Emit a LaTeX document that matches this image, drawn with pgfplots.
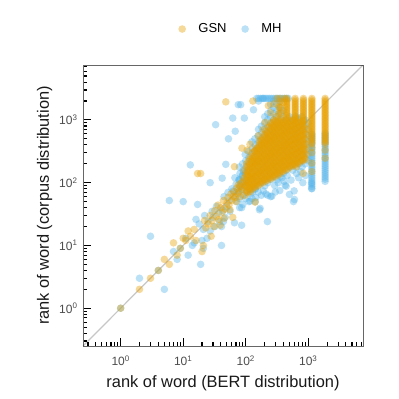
\documentclass[border=0pt]{standalone}
\usepackage{pgfplots}
\pgfplotsset{compat=1.18}
\usetikzlibrary{calc}
\usepackage{fontspec}
\setmainfont{Liberation Sans}
\definecolor{gsn}{HTML}{E69F00}
\definecolor{mh}{HTML}{56B4E9}
\begin{document}
\begin{tikzpicture}
\begin{axis}[
  xmode=log, ymode=log,
  scale only axis, width=280pt, height=281pt,
  xmin=0.25, xmax=7500, ymin=0.25, ymax=7500,
  xtick={1,10,100,1000}, ytick={1,10,100,1000},
  xticklabels={10\textsuperscript{0},10\textsuperscript{1},10\textsuperscript{2},10\textsuperscript{3}},
  yticklabels={10\textsuperscript{0},10\textsuperscript{1},10\textsuperscript{2},10\textsuperscript{3}},
  minor xtick={0.3,0.4,0.5,0.6,0.7,0.8,0.9,2,3,4,5,6,7,8,9,20,30,40,50,60,70,80,90,200,300,400,500,600,700,800,900,2000,3000,4000,5000,6000,7000},
  minor ytick={0.3,0.4,0.5,0.6,0.7,0.8,0.9,2,3,4,5,6,7,8,9,20,30,40,50,60,70,80,90,200,300,400,500,600,700,800,900,2000,3000,4000,5000,6000,7000},
  tick align=inside, xtick pos=bottom, ytick pos=left,
  major tick length=8pt, minor tick length=4pt,
  every tick/.style={black, line width=1.1pt},
  axis line style={draw=black!60, line width=0.9pt},
  tick label style={color=black!70, font=\fontsize{12}{14}\selectfont},
  xticklabel style={yshift=-6pt},
  yticklabel style={xshift=-2pt},
  label style={color=black!90, font=\fontsize{16.4}{19}\selectfont},
  xlabel={rank of word (BERT distribution)},
  xlabel style={yshift=-3pt},
  ylabel={rank of word (corpus distribution)},
  legend columns=-1, reverse legend,
  legend style={at={(rel axis cs:0.52,1.128)}, anchor=center, draw=none, fill=none,
    font=\fontsize{13}{15}\selectfont,
    /tikz/every even column/.append style={column sep=8pt}},
  legend image code/.code={\draw[#1, draw opacity=0] plot[only marks, mark=*] coordinates {(0.3cm,0cm)};
    \path[draw=none, fill=none] (0cm,-3pt) rectangle (0.8cm,3pt);},
]
% ---------------- MH (plotted first, below) ----------------
\addplot[only marks, mark=*, mark size=3.8pt, color=mh, mark options={draw opacity=0, fill opacity=0.4}] coordinates {
(1,1) (2,3) (3,14) (4,4) (5,2) (6,52) (7,8) (8,6) (9,9) (10,50) (11,13) (12,7) (13,192) (14,10) (15,11) (16,26) (17,45) (18,22) (19,5) (20,12) (21,9) (21,18) (22,30) (24,13) (25,24) (27,17) (27,100) (29,35) (30,28) (32,20) (33,840) (34,42) (37,33) (38,24) (41,10) (41,20) (42,118) (43,36) (44,24) (45,60) (47,28) (48,196) (50,41) (52,70) (53,500) (55,52) (56,35) (60,80) (62,1070) (63,74) (65,62) (66,23) (67,120) (68,660) (70,95) (72,50) (74,75) (76,1750) (78,110) (81,112) (83,1750) (84,88) (86,21) (86,40) (88,130) (92,150) (95,1070) (98,100) (117,51) (133,1450) (160,2000) (166,37) (170,39) (190,2200) (191,74) (222,24) (261,61) (297,71) (427,91) (443,88) (594,74) (580,50) (600,54) (818,100) (1130,81) (1130,98) (250,60) (350,75) (500,65) (700,120) (900,130)
(120,67) (145,58) (210,66) (330,100) (380,120) (460,130) (530,110) (650,140) (760,150) (140,80) (290,90) (410,105)
(150,2200) (160,2200) (172,2200) (184,2200) (197,2200) (211,2200) (226,2200) (242,2200) (259,2200) (277,2200) (297,2200) (318,2200) (340,2200) (364,2200) (390,2200) (418,2200) (447,2200) (479,2200)
(1860,105) (1860,114) (1860,123) (1860,133) (1860,144) (1860,156) (1860,169) (1860,183) (1860,198) (1860,215) (1860,233) (1860,252) (1860,273) (1860,296) (1860,320) (1860,347) (1860,376) (1860,407) (1860,441) (1860,478) (1860,518) (1860,561) (1860,608)
(1140,80) (1140,87) (1140,94) (1140,102) (1140,110) (1140,119) (1140,129) (1140,140) (1140,152) (1140,164) (1140,178) (1140,193) (1140,209) (1140,226) (1140,245) (1140,266) (1140,288) (1140,312) (1140,338) (1140,366) (1140,397) (1140,430) (1140,466) (1140,505) (1140,547) (1140,593)
(80,40) (79,56) (77,71) (80,89) (78,112) (81,141) (79,178)
(90,45) (91,63) (87,79) (90,100) (88,126) (91,158) (89,200)
(100,56) (102,71) (98,89) (101,112) (99,141) (102,178) (100,224) (98,282)
(113,50) (114,79) (110,100) (113,126) (111,158) (114,200) (112,251) (110,316)
(126,56) (128,71) (124,89) (127,112) (125,141) (128,178) (126,224) (124,282) (127,355) (125,447)
(142,50) (143,79) (139,100) (142,126) (140,158) (143,200) (141,251) (139,316) (142,398) (140,501)
(158,71) (160,89) (156,112) (159,141) (157,178) (160,224) (158,282) (156,355) (159,447) (157,562) (160,708)
(178,63) (176,100) (179,126) (177,158) (180,200) (178,251) (176,316) (179,398) (177,501) (180,631) (178,794)
(202,89) (197,112) (201,141) (199,178) (202,224) (200,282) (197,355) (201,447) (198,562) (202,708) (199,891) (201,1122)
(225,63) (226,100) (221,126) (225,158) (223,200) (226,251) (224,316) (221,398) (225,501) (222,631) (226,794) (223,1000) (225,1259)
(253,112) (248,141) (252,178) (250,224) (253,282) (251,355) (248,447) (252,562) (249,708) (253,891) (250,1122) (252,1413) (249,1778)
(279,126) (283,158) (281,200) (284,251) (282,316) (279,398) (283,501) (280,631) (284,794) (281,1000) (283,1259) (280,1585) (282,1995)
(318,112) (313,141) (317,178) (315,224) (318,282) (316,355) (313,447) (317,562) (314,708) (318,891) (315,1122) (317,1413) (314,1778)
(358,126) (352,158) (356,200) (354,251) (357,316) (355,398) (352,501) (356,631) (353,794) (357,1000) (354,1259) (356,1585) (353,1995)
(401,141) (395,178) (399,224) (397,282) (400,355) (398,447) (395,562) (399,708) (396,891) (400,1122) (397,1413)
(450,158) (444,200) (448,251) (446,316) (449,398) (447,501) (444,631) (448,794) (445,1000)
(498,178) (502,224) (500,282) (503,355) (501,447) (498,562) (502,708) (499,891) (503,1122)
(565,158) (559,200) (563,251) (561,316) (564,398) (562,501) (559,631) (563,794) (560,1000)
(634,178) (628,224) (632,282) (630,355) (633,447) (631,562) (628,708) (632,891) (629,1122)
(711,200) (705,251) (709,316) (707,398) (710,501) (708,631) (705,794) (709,1000)
(797,178) (791,224) (795,282) (793,355) (796,447) (794,562) (791,708) (795,891) (792,1122)
(894,200) (888,251) (892,316) (890,398) (893,501) (891,631) (888,794) (892,1000)
(1003,224) (997,282) (1001,355) (999,447) (1002,562) (1000,708) (997,891)
};
\addlegendentry{MH}
% ---------------- GSN (plotted on top) ----------------
\addplot[only marks, mark=*, mark size=3.8pt, color=gsn, mark options={draw opacity=0, fill opacity=0.4}] coordinates {
(1,1) (2,2) (3,3) (4,4) (5,6) (6,5) (7,11) (8,7) (9,9) (10,13) (11,12) (12,17) (13,14) (15,18) (16,12) (17,140) (19,140) (20,8) (21,10) (22,25) (23,19) (25,22) (27,30) (28,14) (29,25) (31,20) (32,36) (34,29) (36,44) (37,26) (39,21) (40,40) (42,34) (44,52) (45,27) (47,38) (48,1940) (50,47) (52,58) (54,44) (56,37) (58,66) (60,52) (62,28) (63,60) (65,72) (66,180) (68,58) (70,50) (72,82) (74,66) (76,92) (78,72) (80,86) (82,60) (84,98) (87,355) (88,78) (90,105) (92,84) (94,118) (96,92) (105,330) (110,129) (117,410) (130,2000) (141,49) (205,910) (230,1690) (314,2200) (160,560) (190,700) (250,1300) (280,1800) (340,1600) (400,1900) (420,2200) (650,180) (830,141)
(97,63) (102,76) (99,91) (104,110) (100,132) (96,158) (103,200)
(108,69) (112,83) (109,100) (113,120) (107,145) (111,174) (110,219)
(118,72) (122,87) (119,105) (123,126) (117,151) (121,182) (124,219) (118,263)
(129,79) (133,95) (130,115) (134,138) (128,166) (132,200) (131,240) (127,300)
(143,85) (147,102) (144,123) (148,148) (142,178) (146,214) (145,257) (141,320) (149,355)
(156,89) (160,107) (157,129) (161,155) (155,186) (159,224) (158,270) (154,324) (162,398)
(171,95) (176,115) (173,138) (177,166) (170,200) (175,240) (174,288) (169,347) (178,417) (172,479)
(187,100) (192,120) (189,145) (193,174) (186,209) (191,251) (190,302) (185,363) (194,437) (188,525)
(206,105) (211,126) (208,151) (212,182) (205,219) (210,263) (209,316) (204,380) (213,457) (207,550) (210,660)
(226,110) (231,132) (228,158) (232,191) (225,229) (230,275) (229,331) (224,398) (233,479) (227,575) (230,760)
(248,115) (253,138) (250,166) (254,200) (247,240) (252,288) (251,347) (246,417) (255,501) (249,603) (252,724) (250,890)
(271,120) (277,145) (274,174) (278,209) (270,251) (276,302) (275,363) (269,437) (279,525) (273,631) (276,759) (272,912) (278,1000)
(298,126) (304,151) (301,182) (305,219) (297,263) (303,316) (302,380) (296,457) (306,550) (300,661) (303,794) (299,955) (305,1120)
(327,132) (333,158) (330,191) (334,229) (326,275) (332,331) (331,398) (325,479) (336,575) (329,692) (333,832) (328,1000) (334,1260)
(359,141) (366,170) (362,204) (367,245) (358,295) (365,355) (363,427) (357,513) (368,617) (361,741) (365,891) (360,1070) (366,1290)
(393,151) (401,182) (397,219) (402,263) (392,316) (400,380) (398,457) (391,550) (404,661) (396,794) (400,955)
(432,158) (440,190) (435,229) (441,275) (430,331) (438,398) (437,479) (429,575) (443,692) (434,832) (439,1000)
(473,166) (482,200) (477,240) (483,288) (471,347) (480,417) (479,501) (470,603) (485,724) (475,870) (481,1050)
(519,178) (528,214) (523,257) (530,309) (517,372) (526,447) (525,537) (516,646) (532,776) (521,933)
(568,186) (579,224) (573,269) (580,324) (566,389) (577,468) (575,562) (565,676) (582,813) (571,977)
(624,195) (635,234) (628,282) (637,339) (621,407) (633,490) (631,589) (620,708) (639,851) (626,1023)
(684,204) (696,245) (689,295) (698,355) (681,427) (694,513) (692,617) (680,741) (700,891) (687,1070)
(750,214) (763,257) (755,309) (765,372) (747,447) (761,537) (759,646) (745,776) (767,933)
(822,224) (837,269) (828,324) (839,389) (819,468) (834,562) (832,676) (817,813) (841,977)
(902,234) (917,282) (908,339) (920,407) (898,490) (915,589) (912,708) (896,851)
(105,72) (106,87) (104,105) (105,126) (106,151) (104,182)
(116,78) (114,93) (115,112) (116,135) (114,162) (115,195) (116,234)
(127,83) (125,100) (126,120) (127,145) (125,174) (126,209) (127,251)
(139,89) (137,107) (138,129) (139,155) (137,186) (138,224) (139,269) (137,324)
(152,95) (150,115) (151,138) (152,166) (150,200) (151,240) (152,288) (150,347)
(167,102) (165,123) (166,148) (167,178) (165,214) (166,257) (167,309) (165,372) (166,447)
(183,107) (181,129) (182,155) (183,186) (181,224) (182,269) (183,324) (181,389) (182,468)
(201,112) (199,135) (200,162) (201,195) (199,234) (200,282) (201,339) (199,407) (200,490) (201,589)
(220,117) (218,141) (219,170) (220,204) (218,245) (219,295) (220,355) (218,427) (219,513) (220,617)
(241,123) (239,148) (240,178) (241,214) (239,257) (240,309) (241,372) (239,447) (240,537) (241,646) (239,776)
(265,129) (261,155) (263,186) (265,224) (261,269) (263,324) (265,389) (261,468) (263,562) (265,676) (261,813)
(290,135) (286,162) (288,195) (290,234) (286,282) (288,339) (290,407) (286,490) (288,589) (290,708) (286,851)
(318,141) (314,170) (316,204) (318,245) (314,295) (316,355) (318,427) (314,513) (316,617) (318,741) (314,891)
(349,148) (345,178) (347,214) (349,257) (345,309) (347,372) (349,447) (345,537) (347,646) (349,776) (345,933)
(382,158) (378,191) (380,229) (382,275) (378,331) (380,398) (382,479) (378,575) (380,692) (382,832) (378,1000)
(419,170) (415,204) (417,245) (419,295) (415,355) (417,427) (419,513) (415,617) (417,741) (419,891)
(460,178) (454,214) (457,257) (460,309) (454,372) (457,447) (460,537) (454,646) (457,776) (460,933)
(504,186) (498,224) (501,269) (504,324) (498,389) (501,468) (504,562) (498,676) (501,813) (504,977)
(553,195) (547,234) (550,282) (553,339) (547,407) (550,490) (553,589) (547,708) (550,851)
(607,204) (599,245) (603,295) (607,355) (599,427) (603,513) (607,617) (599,741) (603,891)
(665,214) (657,257) (661,309) (665,372) (657,447) (661,537) (665,646) (657,776) (661,933)
(729,224) (719,269) (724,324) (729,389) (719,468) (724,562) (729,676) (719,813)
(799,234) (789,282) (794,339) (799,407) (789,490) (794,589) (799,708) (789,851)
(876,245) (866,295) (871,355) (876,427) (866,513) (871,617) (876,741)
(1860,2200) (1860,2077) (1860,1961) (1860,1851) (1860,1748) (1860,1650) (1860,1558) (1860,1471) (1860,1388) (1860,1311) (1860,1237) (1860,1168) (1860,1103) (1860,1041) (1860,983) (1860,928) (1860,876) (1860,827) (1860,781) (1860,737) (1860,696) (1860,657) (1860,620) (1860,586) (1860,553) (1860,522) (1860,493) (1860,465) (1860,439) (1860,415) (1860,330) (1860,245)
(1140,2200) (1140,2077) (1140,1961) (1140,1851) (1140,1748) (1140,1650) (1140,1558) (1140,1471) (1140,1388) (1140,1311) (1140,1237) (1140,1168) (1140,1103) (1140,1041) (1140,983) (1140,928) (1140,876) (1140,827) (1140,781) (1140,737) (1140,696) (1140,657) (1140,620) (1140,586) (1140,553) (1140,522) (1140,493) (1140,465) (1140,439) (1140,415) (1140,360) (1140,300) (1140,205) (1140,150)
(837,2200) (837,2077) (837,1961) (837,1851) (837,1748) (837,1650) (837,1558) (837,1471) (837,1388) (837,1311) (837,1237) (837,1168) (837,1103) (837,1041) (837,983) (837,928)
(617,2200) (617,2077) (617,1961) (617,1851) (617,1748) (617,1650) (617,1558) (617,1471) (617,1388) (617,1311) (617,1237) (617,1168) (617,1103) (617,1041) (617,983)
(454,2200) (454,2077) (454,1961) (454,1851) (454,1748) (454,1650) (454,1558) (454,1471) (454,1388) (454,1311) (454,1237) (454,1168) (454,1103)
(355,2200) (355,1961) (355,1748) (355,1558) (355,1388)
};
\addlegendentry{GSN}
% diagonal y = x
\addplot[black, opacity=0.22, line width=1.2pt, forget plot] coordinates {(0.25,0.25) (7500,7500)};
\end{axis}
\pgfresetboundingbox
\path (current axis.south west) ++(-83pt,-53pt) rectangle ($(current axis.north east)+(36pt,65pt)$);
\end{tikzpicture}
\end{document}
